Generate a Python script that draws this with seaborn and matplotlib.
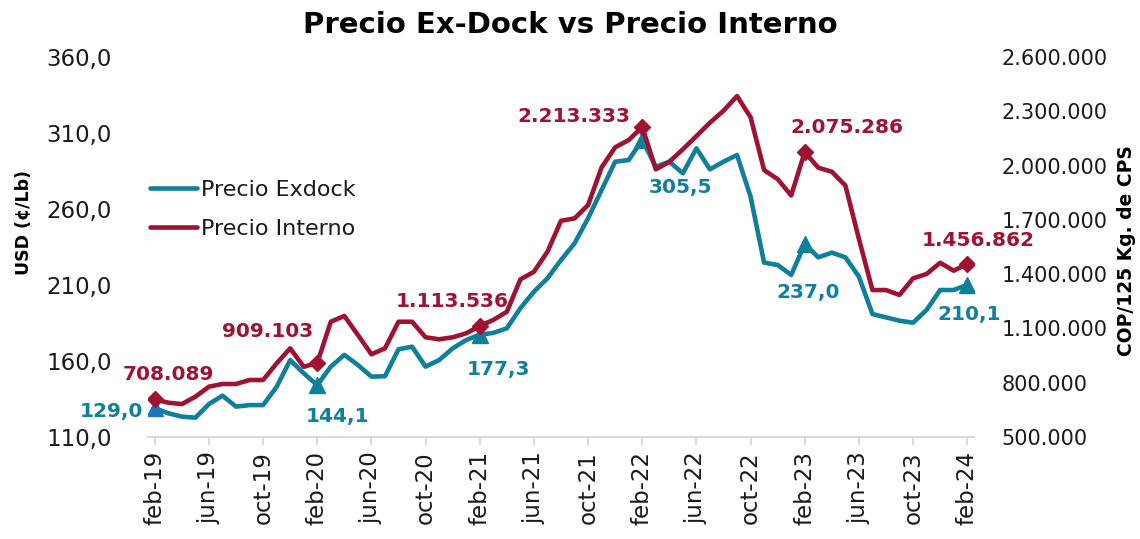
import numpy as np
import matplotlib
matplotlib.use("Agg")
import matplotlib.pyplot as plt
import seaborn as sns
from matplotlib.ticker import FuncFormatter

#-----Data-----#
exdock = [129.0, 125.6, 123.4, 122.7, 131.7, 137.2, 130.0, 131.0, 131.0, 143.0,
          160.6, 151.9, 144.1, 156.3, 164.0, 157.4, 149.7, 150.0, 167.7, 169.4,
          156.3, 160.6, 168.3, 173.8, 177.3, 178.5, 181.5, 194.7, 205.6, 214.4,
          226.4, 237.4, 253.9, 272.5, 291.1, 292.2, 305.5, 287.8, 291.1, 283.5,
          299.9, 286.1, 291.1, 295.5, 268.1, 224.7, 223.2, 216.6, 237.0, 228.2,
          231.3, 228.2, 215.5, 190.9, 188.7, 186.5, 185.2, 193.6, 206.7, 206.7,
          210.1]
interno = [708089, 689600, 682000, 722700, 778000, 793000, 793000, 815000, 815000, 907000,
           990000, 888000, 909103, 1137000, 1169000, 1064000, 957000, 990000, 1137000, 1137000,
           1051000, 1040000, 1051000, 1073000, 1113536, 1147000, 1192000, 1371000, 1413000, 1524000,
           1695000, 1708000, 1782000, 1990000, 2101000, 2141000, 2213333, 1979000, 2021000, 2090000,
           2163000, 2237000, 2303000, 2384000, 2267000, 1975000, 1925000, 1835000, 2075286, 1988000,
           1966000, 1890000, 1595000, 1312000, 1312000, 1285000, 1377000, 1401000, 1463000, 1419000,
           1456862]
tick_labels = ["feb-19", "jun-19", "oct-19", "feb-20", "jun-20", "oct-20", "feb-21", "jun-21",
               "oct-21", "feb-22", "jun-22", "oct-22", "feb-23", "jun-23", "oct-23", "feb-24"]
feb_idx = [0, 12, 24, 36, 48, 60]
exdock_lbl = ["129,0", "144,1", "177,3", "305,5", "237,0", "210,1"]
interno_lbl = ["708.089", "909.103", "1.113.536", "2.213.333", "2.075.286", "1.456.862"]

# label offsets in pixels (dx, dy), tuned by eye
exdock_off = [(-12, -3), (20, -31), (19, -35), (38, -48), (3, -49), (2, -30)]
interno_off = [(14, 25), (-50, 31), (-28, 24), (-68, 10), (42, 24), (11, 23)]

TEAL = "#0F7F9C"
RED = "#A01231"
TXT = "#1a1a1a"

sns.set_theme(style="white")
plt.rcParams["font.family"] = ["DejaVu Sans"]

x = np.arange(len(exdock))

fig = plt.figure(figsize=(11.4, 5.39), dpi=100)
ax = fig.add_axes([148/1140, 1-437/539, (974-148)/1140, 380/539])
ax2 = ax.twinx()

sns.lineplot(x=x, y=exdock, ax=ax, color=TEAL, linewidth=3.3, label="Precio Exdock", legend=False)
sns.lineplot(x=x, y=interno, ax=ax2, color=RED, linewidth=3.3, label="Precio Interno", legend=False)

# markers on february points
tri_colors = ["#1B75BC"] + [TEAL] * 5
for k, i in enumerate(feb_idx):
    ax.plot(i, exdock[i], marker="^", markersize=11, color=tri_colors[k], linestyle="none", zorder=5)
    ax2.plot(i, interno[i], marker="D", markersize=8.5, color=RED, linestyle="none", zorder=5)

    dx, dy = exdock_off[k]
    ax.annotate(exdock_lbl[k], (i, exdock[i]), xytext=(dx, dy), textcoords="offset pixels",
                ha="right" if k == 0 else "center", va="center",
                fontsize=14.5, fontweight="bold", color=TEAL, zorder=6)
    dx, dy = interno_off[k]
    ax2.annotate(interno_lbl[k], (i, interno[i]), xytext=(dx, dy), textcoords="offset pixels",
                 ha="center", va="center", fontsize=14.5, fontweight="bold", color=RED, zorder=6)

ax.set_xlim(-0.5, 60.5)
ax.set_ylim(110, 360)
ax2.set_ylim(500000, 2600000)
ax.set_yticks(np.arange(110, 361, 50))
ax2.set_yticks(np.arange(500000, 2600001, 300000))
ax.yaxis.set_major_formatter(FuncFormatter(lambda v, p: f"{v:.1f}".replace(".", ",")))
ax2.yaxis.set_major_formatter(FuncFormatter(lambda v, p: f"{int(v):,}".replace(",", ".")))
ax.set_xticks(range(0, 61, 4))
ax.set_xticklabels(tick_labels, rotation=90)

for a in (ax, ax2):
    for s in a.spines.values():
        s.set_visible(False)
    a.grid(False)
ax.spines["bottom"].set_visible(True)
ax.spines["bottom"].set_color("#D9D9D9")
ax.spines["bottom"].set_linewidth(1.5)

ax.tick_params(axis="x", bottom=True, length=6, width=1.5, color="#D9D9D9",
               labelsize=16.5, labelcolor=TXT, pad=4)
ax.tick_params(axis="y", left=False, labelsize=16.5, labelcolor=TXT, pad=20)
ax2.tick_params(axis="y", right=False, labelsize=15, labelcolor=TXT, pad=14)

ax.set_ylabel("USD (¢/Lb)", fontsize=12.5, fontweight="bold", color="black")
ax.yaxis.set_label_coords((33-148)/826, 0.565)
ax2.set_ylabel("COP/125 Kg. de CPS", fontsize=13.5, fontweight="bold", color="black", rotation=90)
ax2.yaxis.set_label_coords((1117-148)/826, 0.49)

fig.text(570/1140, 1-25/539, "Precio Ex-Dock vs Precio Interno", ha="center", va="center",
         fontsize=21, fontweight="bold", color="black")

h1, l1 = ax.get_legend_handles_labels()
h2, l2 = ax2.get_legend_handles_labels()
fig.legend(h1 + h2, l1 + l2, loc="upper left", bbox_to_anchor=(150/1140, 1-180/539),
           frameon=False, fontsize=16, handlelength=2.1, handletextpad=0.2,
           labelspacing=0.85, borderpad=0, borderaxespad=0, labelcolor=TXT)

fig.savefig("out.png", dpi=100)
